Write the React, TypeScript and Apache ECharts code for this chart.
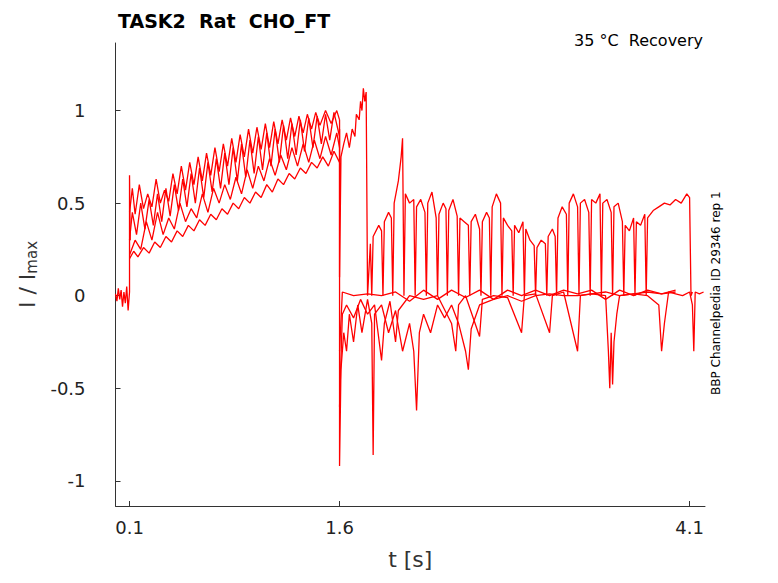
import React, { useEffect, useRef } from 'react';
import * as echarts from 'echarts';

const xTicks = [0.1, 1.6, 4.1];
const yTicks = [-1, -0.5, 0, 0.5, 1];

// baseline before the step
const pre: number[][] = [[0,0.01],[0.01,-0.03],[0.02,0.04],[0.03,-0.02],[0.04,0.03],[0.05,-0.06],[0.06,0.02],[0.07,-0.04],[0.08,0.05],[0.09,-0.08],[0.1,0.02],[0.1,0.65],[0.105,0.3]];
// ramp traces 0.1..1.6 s
const rampLow: number[][] = [[0.1,0.2],[0.13,0.24],[0.16,0.21],[0.2,0.26],[0.24,0.23],[0.28,0.29],[0.32,0.26],[0.36,0.32],[0.4,0.29],[0.44,0.35],[0.48,0.32],[0.52,0.38],[0.56,0.35],[0.6,0.41],[0.64,0.38],[0.68,0.44],[0.72,0.41],[0.76,0.47],[0.8,0.44],[0.84,0.5],[0.88,0.47],[0.92,0.53],[0.96,0.5],[1.0,0.56],[1.04,0.53],[1.08,0.6],[1.12,0.56],[1.16,0.63],[1.2,0.6],[1.24,0.66],[1.28,0.63],[1.32,0.69],[1.36,0.66],[1.4,0.72],[1.44,0.69],[1.48,0.75],[1.52,0.7],[1.56,0.78],[1.6,0.72]];
const rampMid: number[][] = [[0.1,0.3],[0.12,0.45],[0.15,0.33],[0.18,0.5],[0.21,0.36],[0.24,0.52],[0.27,0.38],[0.3,0.55],[0.33,0.4],[0.36,0.58],[0.39,0.43],[0.42,0.6],[0.45,0.46],[0.48,0.63],[0.51,0.48],[0.54,0.66],[0.57,0.5],[0.6,0.69],[0.63,0.53],[0.66,0.72],[0.69,0.56],[0.72,0.74],[0.75,0.58],[0.78,0.77],[0.81,0.6],[0.84,0.8],[0.87,0.62],[0.9,0.82],[0.93,0.64],[0.96,0.84],[0.99,0.66],[1.02,0.86],[1.05,0.68],[1.08,0.88],[1.11,0.7],[1.14,0.9],[1.17,0.72],[1.2,0.92],[1.23,0.74],[1.26,0.93],[1.29,0.76],[1.32,0.95],[1.35,0.78],[1.38,0.96],[1.41,0.8],[1.44,0.97],[1.47,0.82],[1.5,0.98],[1.53,0.84],[1.56,0.99],[1.6,0.86]];
const rampHigh: number[][] = [[0.1,0.45],[0.12,0.58],[0.14,0.44],[0.17,0.6],[0.2,0.47],[0.23,0.55],[0.26,0.48],[0.29,0.63],[0.32,0.5],[0.35,0.57],[0.38,0.51],[0.41,0.66],[0.44,0.55],[0.47,0.7],[0.5,0.57],[0.53,0.72],[0.56,0.6],[0.59,0.75],[0.62,0.62],[0.65,0.77],[0.68,0.65],[0.71,0.8],[0.74,0.67],[0.77,0.82],[0.8,0.7],[0.83,0.85],[0.86,0.72],[0.89,0.87],[0.92,0.75],[0.95,0.9],[0.98,0.77],[1.01,0.91],[1.04,0.79],[1.07,0.93],[1.1,0.8],[1.13,0.94],[1.16,0.82],[1.19,0.95],[1.22,0.84],[1.25,0.96],[1.28,0.86],[1.31,0.97],[1.34,0.88],[1.37,0.98],[1.4,0.9],[1.43,0.99],[1.46,0.92],[1.5,1.0],[1.54,0.93],[1.58,1.0],[1.6,0.95]];
const rampLow2: number[][] = [[0.1,0.22],[0.14,0.3],[0.18,0.25],[0.22,0.4],[0.26,0.3],[0.3,0.45],[0.34,0.33],[0.38,0.42],[0.42,0.36],[0.46,0.5],[0.5,0.4],[0.54,0.47],[0.58,0.42],[0.62,0.55],[0.66,0.45],[0.7,0.58],[0.74,0.5],[0.78,0.6],[0.82,0.52],[0.86,0.64],[0.9,0.55],[0.94,0.68],[0.98,0.58],[1.02,0.7],[1.06,0.62],[1.1,0.74],[1.14,0.65],[1.18,0.76],[1.22,0.68],[1.26,0.8],[1.3,0.7],[1.34,0.82],[1.38,0.72],[1.42,0.84],[1.46,0.74],[1.5,0.86],[1.54,0.76],[1.58,0.88],[1.6,0.8]];
// upper recovery trace after 1.6 s
const upper: number[][] = [[1.6,0.95],[1.6,0.1],[1.61,0.75],[1.63,0.82],[1.65,0.88],[1.67,0.8],[1.69,0.9],[1.71,0.86],[1.72,0.98],[1.74,0.95],[1.75,1.05],[1.76,1.0],[1.77,1.12],[1.78,1.05],[1.79,1.1],[1.8,0.0],[1.82,0.28],[1.83,0.0],[1.84,0.32],[1.88,0.38],[1.9,0.35],[1.91,0.0],[1.92,0.4],[1.95,0.45],[1.97,0.42],[1.98,0.0],[1.99,0.5],[2.02,0.62],[2.04,0.75],[2.05,0.85],[2.06,0.0],[2.07,0.55],[2.1,0.5],[2.13,0.52],[2.14,0.0],[2.15,0.48],[2.18,0.52],[2.21,0.45],[2.22,0.0],[2.23,0.5],[2.26,0.56],[2.29,0.42],[2.3,0.0],[2.31,0.44],[2.34,0.5],[2.36,0.47],[2.37,0.0],[2.38,0.46],[2.41,0.52],[2.44,0.43],[2.45,0.0],[2.46,0.42],[2.49,0.4],[2.52,0.38],[2.53,0.0],[2.54,0.4],[2.57,0.44],[2.6,0.36],[2.61,0.0],[2.62,0.4],[2.65,0.45],[2.67,0.42],[2.68,0.0],[2.69,0.48],[2.72,0.55],[2.75,0.5],[2.76,0.0],[2.77,0.42],[2.8,0.38],[2.83,0.35],[2.84,0.0],[2.85,0.38],[2.88,0.34],[2.91,0.4],[2.92,0.0],[2.93,0.36],[2.96,0.3],[2.99,0.27],[3.0,0.0],[3.01,0.26],[3.04,0.3],[3.07,0.28],[3.08,0.0],[3.09,0.32],[3.12,0.36],[3.14,0.32],[3.15,0.0],[3.16,0.42],[3.19,0.48],[3.22,0.44],[3.23,0.0],[3.24,0.5],[3.27,0.55],[3.3,0.48],[3.31,0.0],[3.32,0.5],[3.35,0.52],[3.38,0.45],[3.39,0.0],[3.4,0.52],[3.43,0.5],[3.46,0.55],[3.47,0.0],[3.48,0.5],[3.51,0.52],[3.54,0.45],[3.55,0.0],[3.56,0.48],[3.59,0.5],[3.62,0.4],[3.63,0.0],[3.64,0.38],[3.67,0.35],[3.7,0.42],[3.71,0.0],[3.72,0.4],[3.75,0.38],[3.78,0.44],[3.79,0.0],[3.8,0.42],[3.84,0.46],[3.88,0.48],[3.92,0.5],[3.96,0.49],[4.0,0.52],[4.04,0.5],[4.08,0.55],[4.1,0.53],[4.11,0.0],[4.12,0.02]];
// lower traces after 1.6 s
const lower: number[][] = [[1.6,0.9],[1.6,-0.92],[1.61,-0.4],[1.63,-0.2],[1.65,-0.3],[1.67,-0.1],[1.7,-0.25],[1.73,-0.05],[1.76,-0.2],[1.8,-0.02],[1.83,-0.15],[1.84,-0.86],[1.85,-0.1],[1.9,-0.05],[1.95,-0.2],[2.0,-0.08],[2.05,-0.3],[2.1,-0.15],[2.13,-0.3],[2.15,-0.62],[2.17,-0.2],[2.2,-0.1],[2.25,-0.2],[2.3,-0.05],[2.35,-0.12],[2.4,-0.05],[2.45,-0.15],[2.5,-0.3],[2.52,-0.4],[2.54,-0.18],[2.6,-0.05],[2.7,-0.02],[2.8,0.0],[2.9,-0.03],[3.0,0.0],[3.1,0.01],[3.2,0.0],[3.3,0.0],[3.4,0.01],[3.5,0.0],[3.52,-0.3],[3.53,-0.5],[3.54,-0.2],[3.55,-0.48],[3.56,-0.25],[3.58,-0.1],[3.6,0.0],[3.7,0.01],[3.8,0.0],[3.88,-0.05],[3.9,-0.3],[3.92,-0.15],[3.95,0.02],[4.0,0.01],[4.05,0.0],[4.1,0.02],[4.12,-0.05],[4.13,-0.3],[4.14,0.02],[4.17,0.01],[4.2,0.02]];
const lower2: number[][] = [[1.6,-0.6],[1.62,-0.1],[1.65,-0.05],[1.7,-0.12],[1.75,-0.02],[1.8,-0.1],[1.85,-0.05],[1.9,-0.35],[1.92,-0.15],[1.96,-0.03],[2.0,-0.25],[2.02,-0.08],[2.1,0.0],[2.2,-0.02],[2.3,0.0],[2.4,-0.15],[2.43,-0.3],[2.45,-0.05],[2.5,0.0],[2.6,-0.22],[2.62,-0.02],[2.7,0.0],[2.8,-0.01],[2.9,-0.2],[2.92,0.0],[3.0,0.01],[3.1,-0.2],[3.12,0.0],[3.2,0.02],[3.3,-0.3],[3.32,0.0],[3.4,0.01],[3.5,0.02],[3.6,0.0],[3.7,0.01],[3.8,0.02],[3.9,0.01],[4.0,0.02]];
const lower3: number[][] = [[1.6,-0.3],[1.62,0.02],[1.7,0.0],[1.8,0.01],[1.9,0.0],[2.0,0.02],[2.1,-0.03],[2.2,0.03],[2.3,-0.02],[2.4,0.03],[2.5,-0.01],[2.6,0.03],[2.7,-0.02],[2.8,0.03],[2.9,0.0],[3.0,0.03],[3.1,0.0],[3.2,0.03],[3.3,0.01],[3.4,0.03],[3.5,-0.02],[3.6,0.03],[3.7,0.0],[3.8,0.03],[3.9,0.01],[4.0,0.03]];

const traces = [pre, rampLow, rampLow2, rampMid, rampHigh, upper, lower, lower2, lower3];

export default function App() {
  const ref = useRef<HTMLDivElement>(null);
  useEffect(() => {
    if (!ref.current) return;
    const chart = echarts.init(ref.current, undefined, { renderer: 'svg' });
    const font = 'DejaVu Sans';
    chart.setOption({
      animation: false,
      backgroundColor: '#fff',
      textStyle: { fontFamily: font },
      grid: { left: 93, right: 65, top: 35, bottom: 63 },
      title: { text: 'TASK2  Rat  CHO_FT', left: 105, top: -2, textStyle: { fontSize: 19, fontWeight: 'bold', color: '#000', fontFamily: font } },
      graphic: [
        { type: 'text', right: 67, top: 24, style: { text: '35 °C  Recovery', font: '16px DejaVu Sans', fill: '#000' } },
        { type: 'text', x: 702, y: 387, rotation: Math.PI / 2, style: { text: 'BBP Channelpedia ID 29346 rep 1', font: '12px DejaVu Sans', fill: '#000' } },
      ],
      xAxis: {
        type: 'value', min: 0, max: 4.21, name: 't [s]', nameLocation: 'middle', nameGap: 42,
        nameTextStyle: { fontSize: 22, color: '#333' },
        axisLine: { onZero: false, lineStyle: { color: '#333' } }, splitLine: { show: false },
        axisTick: { inside: true, customValues: xTicks, lineStyle: { color: '#333' } },
        axisLabel: { customValues: xTicks, fontSize: 18, color: '#222', margin: 12, formatter: (v: number) => String(v) },
      },
      yAxis: {
        type: 'value', min: -1.136, max: 1.365, name: '{a|I / I}{b|max}', nameLocation: 'middle', nameGap: 62,
        nameTextStyle: { rich: { a: { fontSize: 22, color: '#333' }, b: { fontSize: 15, color: '#333', verticalAlign: 'bottom', padding: [10, 0, 0, 0] } } },
        axisLine: { show: true, onZero: false, lineStyle: { color: '#333' } }, splitLine: { show: false },
        axisTick: { show: true, inside: true, customValues: yTicks, lineStyle: { color: '#333' } },
        axisLabel: { customValues: yTicks, fontSize: 18, color: '#222', margin: 30, formatter: (v: number) => String(v) },
      },
      series: traces.map((d) => ({ type: 'line', data: d, symbol: 'none', lineStyle: { color: '#ff0000', width: 1.3 }, silent: true })),
    });
    return () => chart.dispose();
  }, []);
  return <div ref={ref} style={{ width: 762, height: 567 }} />;
}
